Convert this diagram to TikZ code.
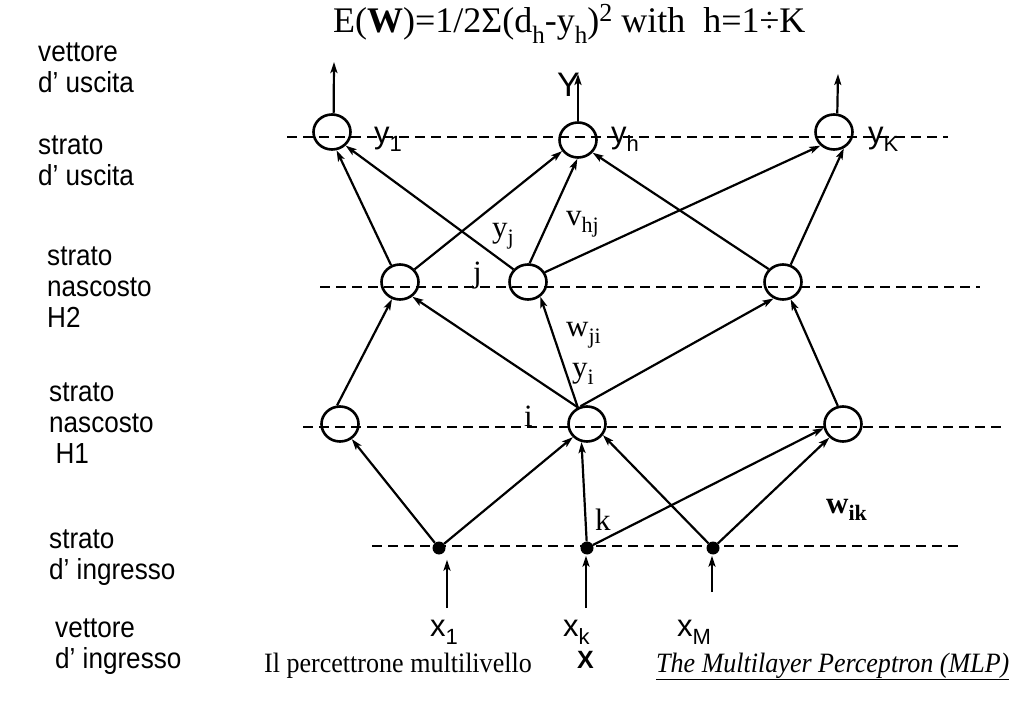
\documentclass[tikz,border=0pt]{standalone}
\usepackage{fontspec}
\setmainfont{Liberation Serif}
\setsansfont{Liberation Sans}
\usetikzlibrary{arrows.meta,shapes.geometric}
\newcommand\tsub[1]{\raisebox{-7pt}{\fontsize{22}{22}\selectfont #1}}
\newcommand\ssub[1]{\raisebox{-8pt}{\fontsize{22}{22}\selectfont #1}}
\newcommand\condensed[2]{\scalebox{#1}[1]{#2}}
\begin{document}
\begin{tikzpicture}[x=1pt,y=-1pt,
  neuron/.style={draw,ellipse,line width=2.6pt,minimum width=37pt,minimum height=35pt,inner sep=0pt},
  inp/.style={circle,fill,minimum size=13pt,inner sep=0pt},
  layer/.style={line width=1.3pt,dash pattern=on 10pt off 6pt},
  conn/.style={line width=2.2pt,-{Stealth[length=11pt,width=7pt,inset=2.5pt]}},
  lab/.style={font=\sffamily\fontsize{29}{31}\selectfont,anchor=base west,inner sep=0pt},
  tlab/.style={font=\fontsize{31}{31}\selectfont,anchor=base west,inner sep=0pt},
  slab/.style={font=\sffamily\fontsize{31}{31}\selectfont,anchor=base west,inner sep=0pt},
  captext/.style={font=\fontsize{28}{30}\selectfont,anchor=base west,inner sep=0pt}]
\useasboundingbox (0,0) rectangle (1023,708);

% title
\node[anchor=base west,inner sep=0pt,font=\fontsize{36}{40}\selectfont] (title) at (333,33)
  {E(\textbf{W})=1/2Σ(d\raisebox{-11pt}{\fontsize{25}{25}\selectfont h}-y\raisebox{-11pt}{\fontsize{25}{25}\selectfont h})\raisebox{11pt}{\fontsize{26}{26}\selectfont 2} with\ \ h=1÷K};

% left labels
\node[lab] (L1) at (38,62) {\condensed{0.9}{\begin{tabular}[t]{@{}l@{}}vettore\\d’ uscita\end{tabular}}};
\node[lab] (L2) at (38,155) {\condensed{0.9}{\begin{tabular}[t]{@{}l@{}}strato\\d’ uscita\end{tabular}}};
\node[lab] (L3) at (47,266) {\condensed{0.9}{\begin{tabular}[t]{@{}l@{}}strato\\nascosto\\H2\end{tabular}}};
\node[lab] (L4) at (49,402) {\condensed{0.9}{\begin{tabular}[t]{@{}l@{}}strato\\nascosto\\\hspace{7pt}H1\end{tabular}}};
\node[lab] (L5) at (49,548) {\condensed{0.9}{\begin{tabular}[t]{@{}l@{}}strato\\d’ ingresso\end{tabular}}};
\node[lab] (L6) at (55,637) {\condensed{0.9}{\begin{tabular}[t]{@{}l@{}}vettore\\d’ ingresso\end{tabular}}};

% layer lines
\coordinate (la1) at (287,137); \coordinate (la2) at (948,137);
\coordinate (lb1) at (320,287); \coordinate (lb2) at (980,287);
\coordinate (lc1) at (303,427); \coordinate (lc2) at (1007,427);
\coordinate (ld1) at (372,546); \coordinate (ld2) at (958,546);
\draw[layer] (la1) -- (la2);
\draw[layer] (lb1) -- (lb2);
\draw[layer] (lc1) -- (lc2);
\draw[layer] (ld1) -- (ld2);

% neurons
\node[neuron] (O1) at (332,132) {};
\node[neuron] (Oh) at (578,140) {};
\node[neuron] (OK) at (834,132) {};
\node[neuron] (A) at (400,282) {};
\node[neuron] (J) at (528,282) {};
\node[neuron] (C) at (783,282) {};
\node[neuron] (P) at (340,424) {};
\node[neuron] (I) at (587,424) {};
\node[neuron] (R) at (843,424) {};
\node[inp] (X1) at (439,548) {};
\node[inp] (Xk) at (587,548) {};
\node[inp] (XM) at (713,548) {};

% outputs
\coordinate (o1) at (334,62);
\coordinate (oh) at (578,74);
\coordinate (oK) at (838,74);
\draw[conn] (O1.85) -- (o1);
\draw[conn] (Oh.north) -- (oh);
\draw[conn] (OK.80) -- (oK);

% H2 -> output
\draw[conn] (A.118) -- (O1.-76);
\draw[conn] (A.41) -- (Oh.-145);
\draw[conn] (J.139) -- (O1.-45);
\draw[conn] (J.85) -- (Oh.-92);
\draw[conn] (J.30) -- (OK.-135);
\draw[conn] (C.138) -- (Oh.-41);
\draw[conn] (C.66) -- (OK.-59);

% H1 -> H2
\draw[conn] (P.99) -- (A.-115);
\draw[conn] (I.119) -- (A.-50);
\draw[conn] (I.119) -- (J.-50);
\draw[conn] (I.110) -- (C.-120);
\draw[conn] (R.106) -- (C.-66);

% input -> H1
\draw[conn] (X1) -- (P.-52);
\draw[conn] (X1) -- (I.-137);
\draw[conn] (Xk) -- (I.-107);
\draw[conn] (XM) -- (I.-35);
\draw[conn] (Xk) -- (R.192);
\draw[conn] (XM) -- (R.-135);

% input arrows
\coordinate (a1) at (447,608);
\coordinate (ak) at (586,608);
\coordinate (aM) at (712,592);
\draw[conn,shorten >=5pt] (a1) -- (a1 |- X1.south);
\draw[conn,shorten >=1pt] (ak) -- (ak |- Xk.south);
\draw[conn,shorten >=1pt] (aM) -- (aM |- XM.south);

% output labels
\node[slab] (ly1) at (374,144) {y\ssub{1}};
\node[slab] (lyh) at (611,144) {y\ssub{h}};
\node[slab] (lyK) at (868,144) {y\ssub{K}};
\node[anchor=base west,inner sep=0pt,font=\sffamily\fontsize{34}{34}\selectfont] (lY) at (557,97) {Y};

% inner labels
\node[tlab] (lj) at (473,283) {j};
\node[tlab] (lyj) at (492,238) {y\tsub{j}};
\node[tlab] (lvhj) at (566,226) {v\tsub{hj}};
\node[tlab] (lwji) at (566,337) {w\tsub{ji}};
\node[tlab] (lyi) at (572,378) {y\tsub{i}};
\node[tlab] (li) at (524,427) {i};
\node[tlab] (lk) at (595,530) {k};
\node[tlab] (lwik) at (826,513) {\textbf{w\tsub{\textbf{ik}}}};

% input labels
\node[slab] (lx1) at (430,636) {x\ssub{1}};
\node[slab] (lxk) at (563,636) {x\ssub{k}};
\node[slab] (lxM) at (677,636) {x\ssub{M}};
\node[anchor=base west,inner sep=0pt,font=\sffamily\bfseries\fontsize{25}{25}\selectfont] (lX) at (577,668) {X};

% captions
\node[captext] (cap1) at (264,672) {\condensed{0.93}{Il percettrone multilivello}};
\node[captext] (cap2) at (656,672) {\condensed{0.93}{\underline{\textit{The Multilayer Perceptron (MLP)}}}};
\end{tikzpicture}
\end{document}
